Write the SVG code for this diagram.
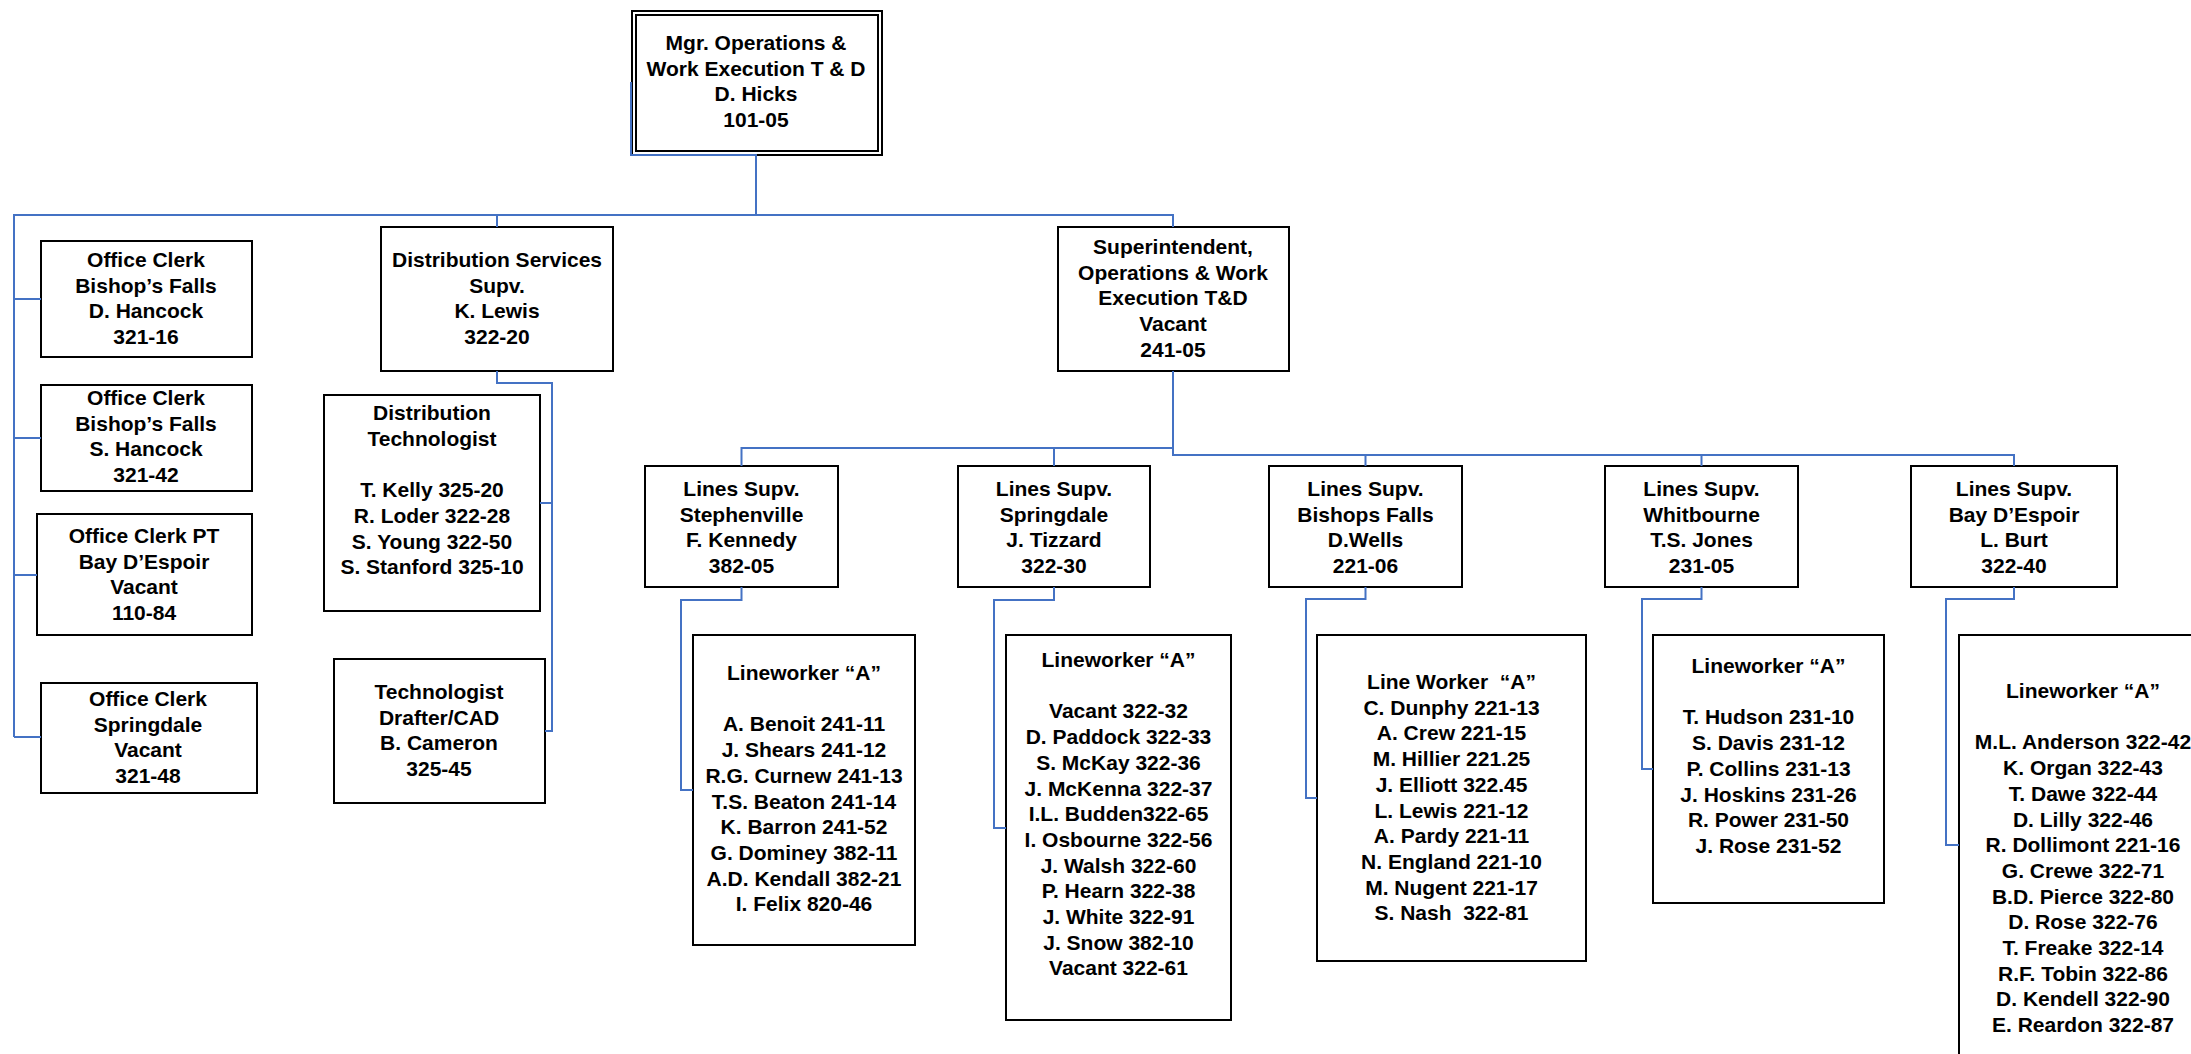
<svg xmlns="http://www.w3.org/2000/svg" width="2191" height="1054" viewBox="0 0 2191 1054">
<style>
text{font-family:"Liberation Sans",Arial,sans-serif;font-weight:bold;font-size:21px;text-anchor:middle;fill:#000}
.box{fill:#fff;stroke:#000;stroke-width:2}
.conn{fill:none;stroke:#4472C4;stroke-width:2}
</style>
<rect width="2191" height="1054" fill="#fff"/>
<g id="mgr">
<rect class="box" x="632" y="11" width="250" height="144"/>
<rect class="box" x="636" y="15" width="242" height="136"/>
<text y="50"><tspan x="756">Mgr. Operations &amp;</tspan><tspan x="756" dy="25.7">Work Execution T &amp; D</tspan><tspan x="756" dy="25.7">D. Hicks</tspan><tspan x="756" dy="25.7">101-05</tspan></text>
</g>
<g id="clerk1">
<rect class="box" x="41" y="241" width="211" height="116"/>
<text y="267"><tspan x="146">Office Clerk</tspan><tspan x="146" dy="25.7">Bishop’s Falls</tspan><tspan x="146" dy="25.7">D. Hancock</tspan><tspan x="146" dy="25.7">321-16</tspan></text>
</g>
<g id="clerk2">
<rect class="box" x="41" y="385" width="211" height="106"/>
<text y="405"><tspan x="146">Office Clerk</tspan><tspan x="146" dy="25.7">Bishop’s Falls</tspan><tspan x="146" dy="25.7">S. Hancock</tspan><tspan x="146" dy="25.7">321-42</tspan></text>
</g>
<g id="clerkPT">
<rect class="box" x="37" y="514" width="215" height="121"/>
<text y="543"><tspan x="144">Office Clerk PT</tspan><tspan x="144" dy="25.7">Bay D’Espoir</tspan><tspan x="144" dy="25.7">Vacant</tspan><tspan x="144" dy="25.7">110-84</tspan></text>
</g>
<g id="clerkSpr">
<rect class="box" x="41" y="683" width="216" height="110"/>
<text y="706"><tspan x="148">Office Clerk</tspan><tspan x="148" dy="25.7">Springdale</tspan><tspan x="148" dy="25.7">Vacant</tspan><tspan x="148" dy="25.7">321-48</tspan></text>
</g>
<g id="distServ">
<rect class="box" x="381" y="227" width="232" height="144"/>
<text y="267"><tspan x="497">Distribution Services</tspan><tspan x="497" dy="25.7">Supv.</tspan><tspan x="497" dy="25.7">K. Lewis</tspan><tspan x="497" dy="25.7">322-20</tspan></text>
</g>
<g id="distTech">
<rect class="box" x="324" y="395" width="216" height="216"/>
<text y="420"><tspan x="432">Distribution</tspan><tspan x="432" dy="25.7">Technologist</tspan><tspan x="432" dy="51.4">T. Kelly 325-20</tspan><tspan x="432" dy="25.7">R. Loder 322-28</tspan><tspan x="432" dy="25.7">S. Young 322-50</tspan><tspan x="432" dy="25.7">S. Stanford 325-10</tspan></text>
</g>
<g id="techDraft">
<rect class="box" x="334" y="659" width="211" height="144"/>
<text y="699"><tspan x="439">Technologist</tspan><tspan x="439" dy="25.7">Drafter/CAD</tspan><tspan x="439" dy="25.7">B. Cameron</tspan><tspan x="439" dy="25.7">325-45</tspan></text>
</g>
<g id="super">
<rect class="box" x="1058" y="227" width="231" height="144"/>
<text y="254"><tspan x="1173">Superintendent,</tspan><tspan x="1173" dy="25.7">Operations &amp; Work</tspan><tspan x="1173" dy="25.7">Execution T&amp;D</tspan><tspan x="1173" dy="25.7">Vacant</tspan><tspan x="1173" dy="25.7">241-05</tspan></text>
</g>
<g id="lsSteph">
<rect class="box" x="645" y="466" width="193" height="121"/>
<text y="496"><tspan x="741.5">Lines Supv.</tspan><tspan x="741.5" dy="25.7">Stephenville</tspan><tspan x="741.5" dy="25.7">F. Kennedy</tspan><tspan x="741.5" dy="25.7">382-05</tspan></text>
</g>
<g id="lsSpr">
<rect class="box" x="958" y="466" width="192" height="121"/>
<text y="496"><tspan x="1054">Lines Supv.</tspan><tspan x="1054" dy="25.7">Springdale</tspan><tspan x="1054" dy="25.7">J. Tizzard</tspan><tspan x="1054" dy="25.7">322-30</tspan></text>
</g>
<g id="lsBish">
<rect class="box" x="1269" y="466" width="193" height="121"/>
<text y="496"><tspan x="1365.5">Lines Supv.</tspan><tspan x="1365.5" dy="25.7">Bishops Falls</tspan><tspan x="1365.5" dy="25.7">D.Wells</tspan><tspan x="1365.5" dy="25.7">221-06</tspan></text>
</g>
<g id="lsWhit">
<rect class="box" x="1605" y="466" width="193" height="121"/>
<text y="496"><tspan x="1701.5">Lines Supv.</tspan><tspan x="1701.5" dy="25.7">Whitbourne</tspan><tspan x="1701.5" dy="25.7">T.S. Jones</tspan><tspan x="1701.5" dy="25.7">231-05</tspan></text>
</g>
<g id="lsBay">
<rect class="box" x="1911" y="466" width="206" height="121"/>
<text y="496"><tspan x="2014">Lines Supv.</tspan><tspan x="2014" dy="25.7">Bay D’Espoir</tspan><tspan x="2014" dy="25.7">L. Burt</tspan><tspan x="2014" dy="25.7">322-40</tspan></text>
</g>
<g id="lwSteph">
<rect class="box" x="693" y="635" width="222" height="310"/>
<text y="680"><tspan x="804">Lineworker “A”</tspan><tspan x="804" dy="51.4">A. Benoit 241-11</tspan><tspan x="804" dy="25.7">J. Shears 241-12</tspan><tspan x="804" dy="25.7">R.G. Curnew 241-13</tspan><tspan x="804" dy="25.7">T.S. Beaton 241-14</tspan><tspan x="804" dy="25.7">K. Barron 241-52</tspan><tspan x="804" dy="25.7">G. Dominey 382-11</tspan><tspan x="804" dy="25.7">A.D. Kendall 382-21</tspan><tspan x="804" dy="25.7">I. Felix 820-46</tspan></text>
</g>
<g id="lwSpr">
<rect class="box" x="1006" y="635" width="225" height="385"/>
<text y="667"><tspan x="1118.5">Lineworker “A”</tspan><tspan x="1118.5" dy="51.4">Vacant 322-32</tspan><tspan x="1118.5" dy="25.7">D. Paddock 322-33</tspan><tspan x="1118.5" dy="25.7">S. McKay 322-36</tspan><tspan x="1118.5" dy="25.7">J. McKenna 322-37</tspan><tspan x="1118.5" dy="25.7">I.L. Budden322-65</tspan><tspan x="1118.5" dy="25.7">I. Osbourne 322-56</tspan><tspan x="1118.5" dy="25.7">J. Walsh 322-60</tspan><tspan x="1118.5" dy="25.7">P. Hearn 322-38</tspan><tspan x="1118.5" dy="25.7">J. White 322-91</tspan><tspan x="1118.5" dy="25.7">J. Snow 382-10</tspan><tspan x="1118.5" dy="25.7">Vacant 322-61</tspan></text>
</g>
<g id="lwBish">
<rect class="box" x="1317" y="635" width="269" height="326"/>
<text y="689" xml:space="preserve"><tspan x="1451.5">Line Worker  “A”</tspan><tspan x="1451.5" dy="25.7">C. Dunphy 221-13</tspan><tspan x="1451.5" dy="25.7">A. Crew 221-15</tspan><tspan x="1451.5" dy="25.7">M. Hillier 221.25</tspan><tspan x="1451.5" dy="25.7">J. Elliott 322.45</tspan><tspan x="1451.5" dy="25.7">L. Lewis 221-12</tspan><tspan x="1451.5" dy="25.7">A. Pardy 221-11</tspan><tspan x="1451.5" dy="25.7">N. England 221-10</tspan><tspan x="1451.5" dy="25.7">M. Nugent 221-17</tspan><tspan x="1451.5" dy="25.7">S. Nash  322-81</tspan></text>
</g>
<g id="lwWhit">
<rect class="box" x="1653" y="635" width="231" height="268"/>
<text y="673"><tspan x="1768.5">Lineworker “A”</tspan><tspan x="1768.5" dy="51.4">T. Hudson 231-10</tspan><tspan x="1768.5" dy="25.7">S. Davis 231-12</tspan><tspan x="1768.5" dy="25.7">P. Collins 231-13</tspan><tspan x="1768.5" dy="25.7">J. Hoskins 231-26</tspan><tspan x="1768.5" dy="25.7">R. Power 231-50</tspan><tspan x="1768.5" dy="25.7">J. Rose 231-52</tspan></text>
</g>
<g id="lwBay">
<rect class="box" x="1959" y="635" width="300" height="500"/>
<text y="698"><tspan x="2083">Lineworker “A”</tspan><tspan x="2083" dy="51.4">M.L. Anderson 322-42</tspan><tspan x="2083" dy="25.7">K. Organ 322-43</tspan><tspan x="2083" dy="25.7">T. Dawe 322-44</tspan><tspan x="2083" dy="25.7">D. Lilly 322-46</tspan><tspan x="2083" dy="25.7">R. Dollimont 221-16</tspan><tspan x="2083" dy="25.7">G. Crewe 322-71</tspan><tspan x="2083" dy="25.7">B.D. Pierce 322-80</tspan><tspan x="2083" dy="25.7">D. Rose 322-76</tspan><tspan x="2083" dy="25.7">T. Freake 322-14</tspan><tspan x="2083" dy="25.7">R.F. Tobin 322-86</tspan><tspan x="2083" dy="25.7">D. Kendell 322-90</tspan><tspan x="2083" dy="25.7">E. Reardon 322-87</tspan></text>
</g>
<g id="connectors" class="conn">
<path d="M631,82 V155 H756 V215"/>
<path d="M14,737 V215 H1173 V227"/>
<path d="M14,299 H41 M14,438 H41 M14,575 H37 M14,737 H41"/>
<path d="M497,215 V227"/>
<path d="M497,371 V383 H552 V731 H545 M552,503 H540"/>
<path d="M1173,371 V455 H2014 V466"/>
<path d="M1173,448 H741.5 V466 M1054,448 V466"/>
<path d="M1365.5,455 V466 M1701.5,455 V466"/>
<path d="M741.5,587 V600 H681 V790 H693"/>
<path d="M1054,587 V600 H994 V828 H1006"/>
<path d="M1365.5,587 V599 H1306 V798 H1317"/>
<path d="M1701.5,587 V599 H1642 V769 H1653"/>
<path d="M2014,587 V599 H1946 V845 H1959"/>
</g>
</svg>
